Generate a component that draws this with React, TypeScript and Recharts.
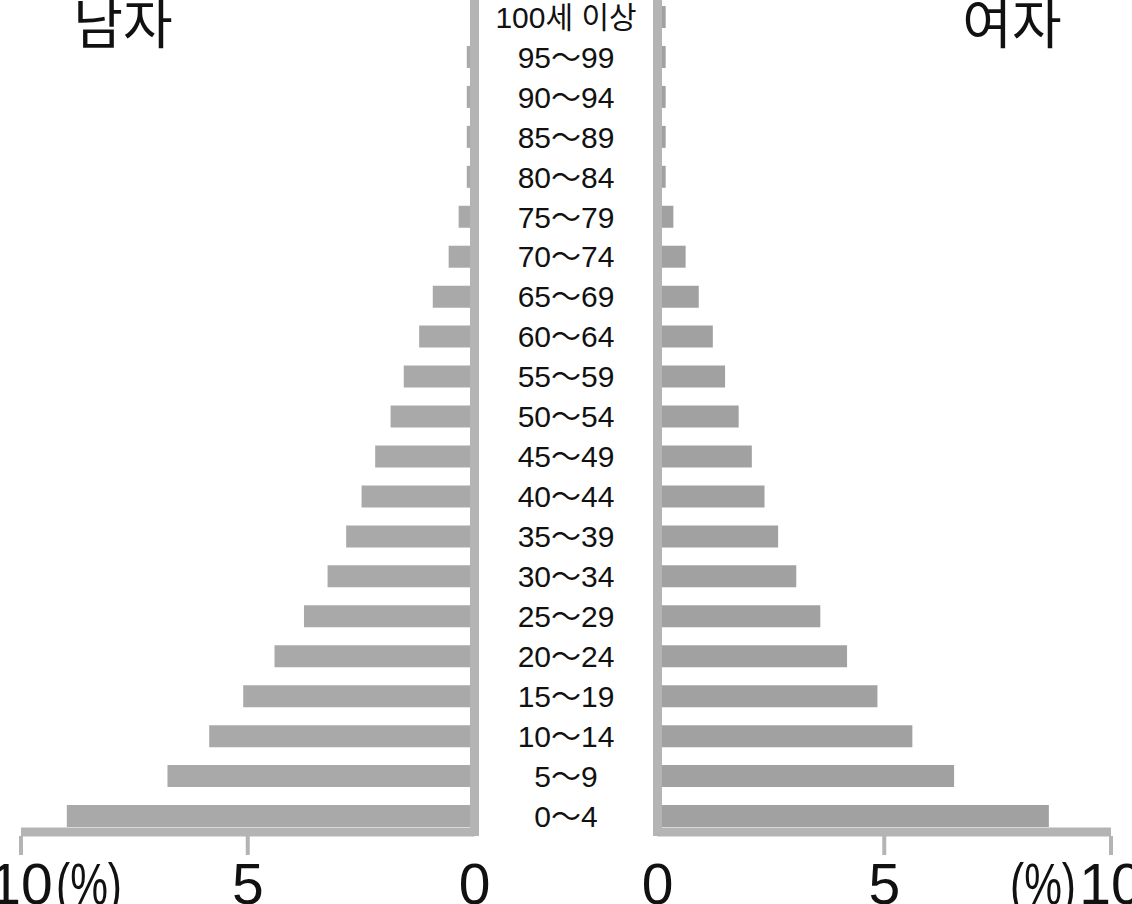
import { BarChart, Bar, XAxis, YAxis, ReferenceLine } from 'recharts';

const ages = [
  '100세 이상', '95～99', '90～94', '85～89', '80～84', '75～79', '70～74',
  '65～69', '60～64', '55～59', '50～54', '45～49', '40～44', '35～39',
  '30～34', '25～29', '20～24', '15～19', '10～14', '5～9', '0～4',
];
const male = [
  0.05, 0.17, 0.17, 0.17, 0.17, 0.35, 0.57, 0.92, 1.22, 1.56, 1.85,
  2.19, 2.49, 2.83, 3.24, 3.76, 4.41, 5.1, 5.85, 6.77, 8.99,
];
const female = [
  0.18, 0.18, 0.18, 0.18, 0.18, 0.35, 0.62, 0.91, 1.22, 1.49, 1.79,
  2.08, 2.36, 2.66, 3.06, 3.59, 4.18, 4.85, 5.62, 6.54, 8.63,
];
const xTicks = [0, 5, 10];

const rows = ages.map((age, i) => ({ age, male: male[i], female: female[i] }));

const AXIS = '#b4b4b4';
const MALE = '#a9a9a9';
const FEMALE = '#a1a1a1';
const FONT = '"Liberation Sans", "Noto Sans CJK KR", sans-serif';
const TICK_SIZE = 19;
const TICK_MARGIN = 8.5;

// x axis tick: short gray tick (not at 0) + big number, "(%)" next to 10
function AxisTick(props: any) {
  const { x, y, payload, side } = props;
  const v = payload.value;
  const top = y - TICK_MARGIN - TICK_SIZE;
  return (
    <g>
      {v !== 0 && (
        <line x1={x} x2={x} y1={top} y2={top + TICK_SIZE} stroke={AXIS} strokeWidth={4} />
      )}
      <text x={x} y={y} dy="0.71em" textAnchor="middle" fontSize={57} fontFamily={FONT} fill="#111">
        {v}
      </text>
      {v === 10 && (
        <text
          x={side === 'left' ? x + 35 : x - 35}
          y={y}
          dy="0.71em"
          textAnchor={side === 'left' ? 'start' : 'end'}
          fontSize={57}
          fontFamily={FONT}
          fill="#111"
          textLength={66}
          lengthAdjust="spacingAndGlyphs"
        >
          (%)
        </text>
      )}
    </g>
  );
}

// age group labels, centred in the gap between the two halves
const LABEL_X = 86;
function AgeTick(props: any) {
  const { y, payload } = props;
  return (
    <text x={LABEL_X} y={y} dy="0.36em" textAnchor="middle" fontSize={30} fontFamily={FONT} fill="#111">
      {payload.value}
    </text>
  );
}

const axisLine = { stroke: AXIS, strokeWidth: 9, transform: 'translate(0,-4)' };

export default function App() {
  return (
    <div
      style={{
        position: 'absolute',
        left: 0,
        top: 0,
        width: 1132,
        height: 904,
        overflow: 'hidden',
        background: '#fff',
      }}
    >
      <div style={{ position: 'absolute', left: 0, top: -3 }}>
        <BarChart width={505} height={910} data={rows} layout="vertical" margin={{ top: 0, right: 30.5, bottom: 0, left: 21 }}>
          <YAxis type="category" dataKey="age" hide />
          <XAxis
            type="number"
            domain={[0, 10]}
            ticks={xTicks}
            interval={0}
            reversed
            height={71}
            axisLine={axisLine}
            tickLine={false}
            tickSize={TICK_SIZE}
            tickMargin={TICK_MARGIN}
            tick={(p: any) => <AxisTick {...p} side="left" />}
          />
          <Bar dataKey="male" fill={MALE} barSize={22} isAnimationActive={false} />
          <ReferenceLine x={0} stroke={AXIS} strokeWidth={9} />
        </BarChart>
      </div>

      <div style={{ position: 'absolute', left: 480, top: -3 }}>
        <BarChart width={652} height={910} data={rows} layout="vertical" margin={{ top: 0, right: 21, bottom: 0, left: 0 }}>
          <YAxis
            type="category"
            dataKey="age"
            width={177.5}
            axisLine={false}
            tickLine={false}
            interval={0}
            tick={(p: any) => <AgeTick {...p} />}
          />
          <XAxis
            type="number"
            domain={[0, 10]}
            ticks={xTicks}
            interval={0}
            height={71}
            axisLine={axisLine}
            tickLine={false}
            tickSize={TICK_SIZE}
            tickMargin={TICK_MARGIN}
            tick={(p: any) => <AxisTick {...p} side="right" />}
          />
          <Bar dataKey="female" fill={FEMALE} barSize={22} isAnimationActive={false} />
          <ReferenceLine x={0} stroke={AXIS} strokeWidth={9} />
        </BarChart>
      </div>

      <div
        style={{
          position: 'absolute',
          left: 23,
          top: -6,
          width: 200,
          textAlign: 'center',
          fontFamily: '"Noto Sans CJK KR", sans-serif',
          fontSize: 54,
          lineHeight: 1,
          color: '#111',
        }}
      >
        남자
      </div>
      <div
        style={{
          position: 'absolute',
          left: 912,
          top: -6,
          width: 200,
          textAlign: 'center',
          fontFamily: '"Noto Sans CJK KR", sans-serif',
          fontSize: 54,
          lineHeight: 1,
          color: '#111',
        }}
      >
        여자
      </div>
    </div>
  );
}
